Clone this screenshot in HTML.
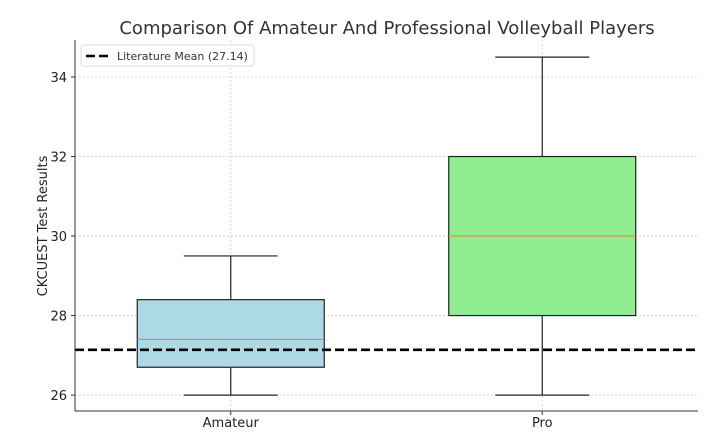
<!DOCTYPE html>
<html><head><meta charset="utf-8"><style>
body{margin:0;background:#fff;}
svg text{font-family:"DejaVu Sans","Liberation Sans",sans-serif;}
</style></head><body>
<svg id="c" width="720" height="441" xmlns="http://www.w3.org/2000/svg">
<text x="387" y="34" text-anchor="middle" font-size="18" fill="#333">Comparison Of Amateur And Professional Volleyball Players</text>
<text transform="translate(47,226) rotate(-90)" text-anchor="middle" font-size="13" fill="#222">CKCUEST Test Results</text>
<g id="grid"></g><g id="marks"></g><g id="axes"></g>
</svg>
<script>
const categories=["Amateur","Pro"];
const whiskerLow=[26,26];
const q1=[26.7,28];
const medians=[27.4,30];
const q3=[28.4,32];
const whiskerHigh=[29.5,34.5];
const colors=["#add8e6","#90ee90"];
const yTicks=[26,28,30,32,34];
const literatureMean=27.14;
const NS="http://www.w3.org/2000/svg";
const L=75,R=698,T=40,B=411,yMin=25.6,yMax=34.93;
const y=v=>B-(v-yMin)/(yMax-yMin)*(B-T);
const xc=i=>L+(i+0.5)*(R-L)/categories.length;
const bw=187;
function mk(tag,attrs,parent){const e=document.createElementNS(NS,tag);for(const k in attrs)e.setAttribute(k,attrs[k]);document.getElementById(parent).appendChild(e);return e;}
yTicks.forEach(t=>{
 const g=mk('line',{x1:L,x2:R,y1:y(t),y2:y(t),stroke:'#ccc','stroke-dasharray':'2,2','stroke-width':0.8},'grid');
 
 
 const tk=mk('line',{x1:L-4,x2:L,y1:y(t),y2:y(t),stroke:'#333'},'axes');
 
 
 const tx=mk('text',{x:L-8,y:y(t)+5,'text-anchor':'end','font-size':13,fill:'#222'},'axes');
 tx.textContent=t;
 
 
});
categories.forEach((c,i)=>{
 const g=mk('line',{x1:xc(i),x2:xc(i),y1:T,y2:B,stroke:'#ccc','stroke-dasharray':'2,2','stroke-width':0.8},'grid');
 
 
 const x=xc(i);
 const w1=mk('line',{x1:x,x2:x,y1:y(q1[i]),y2:y(whiskerLow[i]),stroke:'#222','stroke-width':1.2},'marks');
 
 
 const w2=mk('line',{x1:x,x2:x,y1:y(q3[i]),y2:y(whiskerHigh[i]),stroke:'#222','stroke-width':1.2},'marks');
 
 
 const c1=mk('line',{x1:x-47,x2:x+47,y1:y(whiskerLow[i]),y2:y(whiskerLow[i]),stroke:'#222','stroke-width':1.2},'marks');
 
 
 const c2=mk('line',{x1:x-47,x2:x+47,y1:y(whiskerHigh[i]),y2:y(whiskerHigh[i]),stroke:'#222','stroke-width':1.2},'marks');
 
 
 const b=mk('rect',{x:x-bw/2,y:y(q3[i]),width:bw,height:y(q1[i])-y(q3[i]),fill:colors[i],stroke:'#222','stroke-width':1.2},'marks');
 
 
 const m=mk('line',{x1:x-bw/2,x2:x+bw/2,y1:y(medians[i]),y2:y(medians[i]),stroke:'#e8883a','stroke-width':1.2},'marks');
 
 
 const tk=mk('line',{x1:x,x2:x,y1:B,y2:B+4,stroke:'#333'},'axes');
 
 
 const tx=mk('text',{x:x,y:B+16,'text-anchor':'middle','font-size':13,fill:'#222'},'axes');
 tx.textContent=c;
 
 
});
const ml=mk('line',{x1:L,x2:R,y1:y(literatureMean),y2:y(literatureMean),stroke:'#000','stroke-width':2.6,'stroke-dasharray':'9,4'},'marks');


const sl=mk('line',{x1:L,x2:L,y1:T,y2:B,stroke:'#333','stroke-width':1},'axes');


const sb=mk('line',{x1:L,x2:R,y1:B,y2:B,stroke:'#333','stroke-width':1},'axes');


const lg=mk('rect',{x:81,y:45,width:173,height:21,rx:3,fill:'#fff','fill-opacity':0.85,stroke:'#ddd'},'axes');


const ll=mk('line',{x1:86,x2:110,y1:56,y2:56,stroke:'#000','stroke-width':2.6,'stroke-dasharray':'9,4'},'axes');


const lt=mk('text',{x:117,y:60,'font-size':11,fill:'#333'},'axes');
lt.textContent='Literature Mean ('+literatureMean+')';


</script>
</body></html>
